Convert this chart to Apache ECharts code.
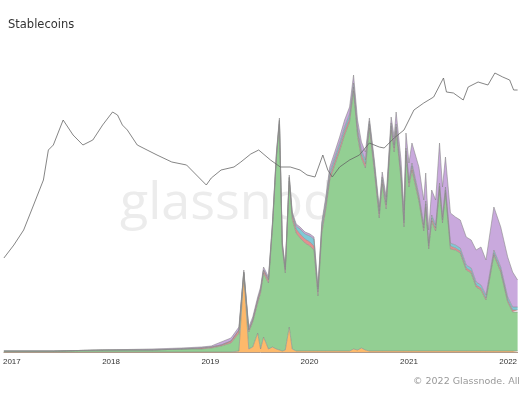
<!DOCTYPE html>
<html>
<head>
<meta charset="utf-8">
<script src="https://cdn.jsdelivr.net/npm/echarts@6/dist/echarts.min.js"></script>
<style>html,body{margin:0;padding:0;background:#fff}#main{width:520px;height:400px}</style>
</head>
<body>
<div id="main"></div>
<script>
// dates as decimal years
var stackYears = [2016.920, 2017.418, 2017.915, 2018.413, 2018.711, 2018.910, 2019.010, 2019.109, 2019.209, 2019.289,
    2019.338, 2019.388, 2019.428, 2019.478, 2019.507, 2019.537, 2019.587, 2019.627, 2019.667, 2019.697,
    2019.726, 2019.756, 2019.796, 2019.826, 2019.866, 2019.905, 2019.955, 2020.005, 2020.045, 2020.085,
    2020.124, 2020.164, 2020.204, 2020.254, 2020.303, 2020.353, 2020.403, 2020.443, 2020.483, 2020.522,
    2020.562, 2020.602, 2020.652, 2020.701, 2020.731, 2020.771, 2020.821, 2020.851, 2020.871, 2020.920,
    2020.950, 2020.970, 2021.000, 2021.030, 2021.100, 2021.149, 2021.169, 2021.199, 2021.229, 2021.269,
    2021.308, 2021.338, 2021.368, 2021.418, 2021.468, 2021.517, 2021.577, 2021.627, 2021.677, 2021.726,
    2021.776, 2021.856, 2021.925, 2021.995, 2022.045, 2022.095];
var orange = [0, 0, 0, 0, 0, 0, 0, 0, 0, 1, 78, 3, 5, 19, 3, 15, 3, 5, 3, 2, 1, 2, 25, 3, 1, 1, 1, 1, 1, 1,
    1, 1, 1, 1, 1, 1, 1, 3, 2, 4, 2,
    1, 1, 1, 1, 1, 1, 1, 1, 1, 1, 1, 1, 1, 1, 1, 1, 1, 1, 1, 1, 1, 1, 1, 1, 1, 1, 1, 1, 1, 1, 1, 1, 1, 1, 1];
var green = [1, 1, 2, 2, 3, 3, 4, 6, 9, 18, 1, 17, 25, 30, 56, 64, 66, 119, 191, 226, 103, 77, 146, 130, 118, 113, 108, 105, 101, 55,
    118, 142, 171, 186, 200, 216, 229, 258, 214, 190, 182,
    223, 180, 133, 167, 142, 221, 199, 220, 172, 124, 196, 164, 181, 150, 120, 144, 102, 130, 120, 162,
    128, 158, 102, 101, 98, 81, 78, 64, 61, 51, 96, 79, 49, 39, 39];
var pink = [0, 0, 0, 0, 0, 1, 1, 1, 2, 3, 1, 2, 2, 3, 3, 3, 3, 3, 3, 3, 3, 3, 3, 4, 4, 4, 4, 4, 4, 4,
    4, 4, 4, 4, 4, 4, 4, 4, 4, 4, 4,
    4, 4, 4, 4, 4, 4, 4, 4, 4, 4, 4, 4, 4, 3, 3, 3, 3, 3, 3, 3, 3, 3, 3, 2, 2, 2, 2, 2, 2, 2, 2, 2, 2, 2, 2];
var teal = [0, 0, 0, 0, 0, 0, 0, 0, 0, 0, 0, 0, 0, 0, 0, 0, 1, 1, 1, 1, 1, 1, 1, 1, 3, 5, 5, 6, 7, 3,
    4, 4, 4, 4, 4, 4, 4, 4, 4, 4, 4,
    3, 3, 3, 3, 3, 3, 3, 3, 3, 3, 3, 3, 3, 3, 3, 3, 3, 3, 3, 3, 3, 3, 3, 3, 3, 3, 3, 3, 3, 3, 3, 3, 3, 3, 3];
var purple = [0, 0, 0, 1, 1, 1, 1, 3, 3, 3, 2, 3, 3, 3, 3, 3, 2, 2, 2, 2, 2, 2, 2, 2, 2, 2, 2, 2, 2, 2,
    3, 4, 5, 5, 6, 7, 7, 8, 8, 8, 8,
    3, 4, 4, 5, 5, 6, 8, 12, 12, 10, 15, 17, 20, 28, 25, 28, 13, 25, 25, 40,
    30, 30, 30, 28, 28, 28, 28, 32, 38, 35, 43, 40, 40, 35, 27];

var priceYears = [2016.920, 2017.020, 2017.119, 2017.219, 2017.318, 2017.368, 2017.418, 2017.517, 2017.617, 2017.716,
    2017.816, 2017.915, 2018.015, 2018.065, 2018.114, 2018.164, 2018.264, 2018.363, 2018.463, 2018.612,
    2018.761, 2018.910, 2018.960, 2019.010, 2019.109, 2019.239, 2019.308, 2019.408, 2019.488, 2019.607,
    2019.706, 2019.806, 2019.905, 2019.975, 2020.055, 2020.134, 2020.184, 2020.229, 2020.303, 2020.403,
    2020.502, 2020.602, 2020.701, 2020.751, 2020.851, 2020.950, 2021.000, 2021.050, 2021.149, 2021.249,
    2021.348, 2021.378, 2021.448, 2021.547, 2021.597, 2021.697, 2021.796, 2021.866, 2021.945, 2022.015,
    2022.055, 2022.095];
var price = [94, 107, 122, 147, 172, 202, 207, 232, 217, 207,
    212, 227, 240, 237, 227, 222, 207, 202, 197, 190,
    187, 172, 167, 174, 182, 185, 190, 198, 202, 192,
    185, 185, 182, 177, 175, 197, 182, 175, 185, 192,
    197, 209, 205, 204, 214, 222, 232, 242, 249, 255,
    274, 260, 259, 252, 265, 270, 267, 279, 275, 272,
    262, 262];

function toTime(y) {
    var yr = Math.floor(y);
    var start = Date.UTC(yr, 0, 1), end = Date.UTC(yr + 1, 0, 1);
    return start + (y - yr) * (end - start);
}
function pairs(xs, ys) {
    var out = [];
    for (var i = 0; i < xs.length; i++) out.push([toTime(xs[i]), ys[i]]);
    return out;
}
function area(name, color, data) {
    return {
        name: name, type: 'line', stack: 'sc', data: pairs(stackYears, data),
        symbol: 'none',
        lineStyle: {width: 0.6, color: '#8a8a8a'},
        areaStyle: {color: color, opacity: 1}
    };
}

var myChart = echarts.init(document.getElementById('main'));
var option = {
    animation: false,
    grid: {left: 0, right: 0, top: 62, bottom: 48},
    graphic: [
        {type: 'text', left: 8, top: 19, style: {text: 'Stablecoins', font: '11.5px "DejaVu Sans"', fill: '#333'}},
        {type: 'text', left: 120, top: 178, z: -1, style: {text: 'glassnode', font: '52px "Open Sans"', fill: '#ececec'}},
        {type: 'text', left: 413, top: 377, style: {text: '© 2022 Glassnode. All Rights Reserved.', font: '9.5px "DejaVu Sans"', fill: '#999'}}
    ],
    xAxis: {
        type: 'time', min: toTime(2016.92), max: toTime(2022.095),
        splitLine: {show: false},
        axisLine: {lineStyle: {color: '#b09a8a'}},
        axisTick: {show: false},
        axisLabel: {
            showMinLabel: false, showMaxLabel: false, color: '#333', fontSize: 8, margin: 6,
            formatter: function (v) {
                var d = new Date(v);
                return (d.getUTCMonth() === 0 && d.getUTCDate() === 1) ? String(d.getUTCFullYear()) : '';
            }
        }
    },
    yAxis: {type: 'value', min: 0, max: 290, show: false, splitLine: {show: false}},
    series: [
        area('orange', '#fdb96b', orange),
        area('green', '#93cf93', green),
        area('pink', '#e3908e', pink),
        area('teal', '#7fc9d6', teal),
        area('purple', '#c9a9dd', purple),
        {
            name: 'price', type: 'line', data: pairs(priceYears, price), symbol: 'none', z: 5,
            lineStyle: {width: 0.8, color: '#666'}
        }
    ]
};
myChart.setOption(option);
</script>
</body>
</html>
